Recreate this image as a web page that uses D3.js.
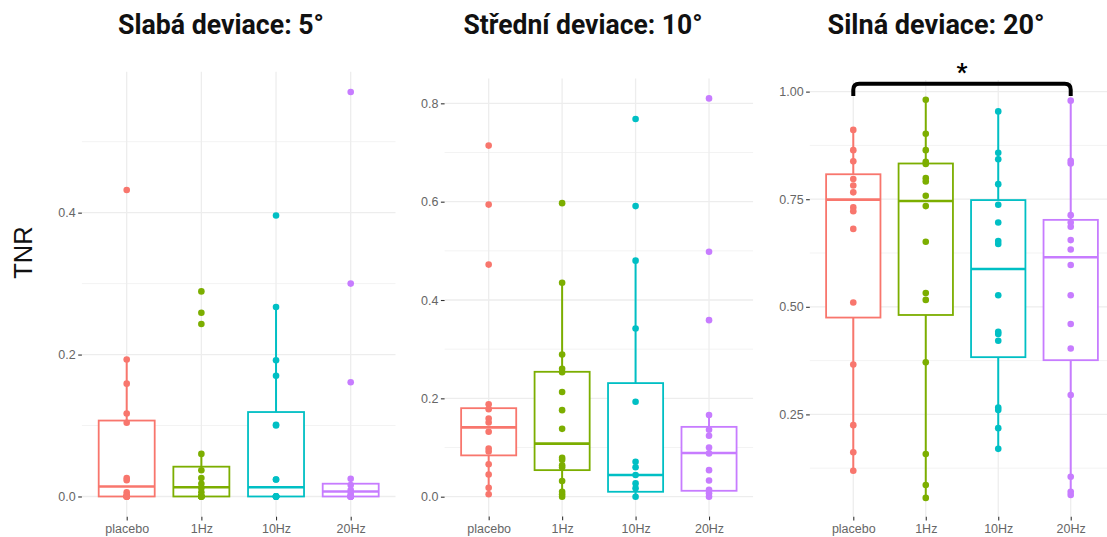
<!DOCTYPE html>
<html>
<head>
<meta charset="utf-8">
<script src="https://cdn.jsdelivr.net/npm/d3@7"></script>
<style>
    body { margin: 0; background: #fff; }
    svg { display: block; }
</style>
</head>
<body>
<div id="chart"></div>
<script>
    // categories and colours (ggplot default hue)
    var groups = ['placebo', '1Hz', '10Hz', '20Hz'];
    var groupColors = ['#F8766D', '#7CAE00', '#00BFC4', '#C77CFF'];
    var panelTitles = ['Slabá deviace: 5°', 'Střední deviace: 10°', 'Silná deviace: 20°'];

    // tick values
    var weakTicks = [0, 0.2, 0.4];
    var weakMinor = [0.1, 0.3, 0.5];
    var midTicks = [0, 0.2, 0.4, 0.6, 0.8];
    var midMinor = [0.1, 0.3, 0.5, 0.7];
    var strongTicks = [0.25, 0.5, 0.75, 1.0];
    var strongMinor = [0.125, 0.375, 0.625, 0.875];

    // box stats per group: [lower whisker, q1, median, q3, upper whisker]
    var weakBoxes = [
        [0, 0, 0.014, 0.107, 0.193],
        [0, 0, 0.013, 0.042, 0.060],
        [0, 0, 0.013, 0.119, 0.267],
        [0, 0, 0.007, 0.018, 0.025]
    ];
    var midBoxes = [
        [0.005, 0.084, 0.141, 0.180, 0.188],
        [0, 0.054, 0.108, 0.254, 0.435],
        [0, 0.010, 0.044, 0.231, 0.480],
        [0, 0.012, 0.089, 0.142, 0.166]
    ];
    var strongBoxes = [
        [0.119, 0.475, 0.749, 0.808, 0.911],
        [0.056, 0.481, 0.746, 0.833, 0.981],
        [0.170, 0.383, 0.588, 0.748, 0.954],
        [0.063, 0.376, 0.615, 0.702, 0.979]
    ];

    // individual observations per group
    var weakPoints = [
        [0.432, 0.193, 0.159, 0.117, 0.104, 0.026, 0.023, 0.006, 0.002, 0, 0, 0, 0, 0, 0],
        [0.289, 0.259, 0.243, 0.060, 0.037, 0.026, 0.018, 0.012, 0.006, 0, 0, 0, 0, 0, 0],
        [0.396, 0.267, 0.192, 0.170, 0.101, 0.100, 0.024, 0.024, 0, 0, 0, 0, 0, 0, 0],
        [0.570, 0.300, 0.161, 0.025, 0.016, 0.009, 0.005, 0, 0, 0, 0, 0, 0, 0, 0]
    ];
    var midPoints = [
        [0.714, 0.594, 0.472, 0.188, 0.178, 0.159, 0.151, 0.132, 0.098, 0.092, 0.066, 0.045, 0.018, 0.005],
        [0.597, 0.435, 0.289, 0.260, 0.253, 0.213, 0.176, 0.138, 0.079, 0.075, 0.064, 0.060, 0.032, 0.010, 0.005, 0],
        [0.768, 0.591, 0.480, 0.342, 0.193, 0.071, 0.060, 0.044, 0.027, 0.017, 0],
        [0.810, 0.498, 0.359, 0.166, 0.136, 0.124, 0.100, 0.088, 0.054, 0.033, 0.014, 0.007, 0]
    ];
    var strongPoints = [
        [0.911, 0.864, 0.838, 0.797, 0.782, 0.766, 0.731, 0.722, 0.681, 0.510, 0.366, 0.225, 0.162, 0.119],
        [0.981, 0.902, 0.864, 0.837, 0.832, 0.799, 0.791, 0.758, 0.734, 0.651, 0.532, 0.516, 0.371, 0.158, 0.086, 0.056],
        [0.954, 0.858, 0.843, 0.785, 0.737, 0.696, 0.653, 0.646, 0.527, 0.442, 0.437, 0.421, 0.266, 0.260, 0.218, 0.170],
        [0.979, 0.839, 0.833, 0.713, 0.696, 0.686, 0.655, 0.633, 0.597, 0.527, 0.460, 0.403, 0.295, 0.105, 0.070, 0.063]
    ];

    // significance bracket (panel 3)
    var sigPair = ['placebo', '20Hz'];
    var sigLabel = '*';

    var width = 1107, height = 537;

    var svg = d3.select('#chart')
        .append('svg')
        .attr('width', width)
        .attr('height', height);

    // panel layout
    var panels = [
        {title: panelTitles[0], titleX: 221, left: 81.9, right: 395.5, top: 71.8, bottom: 516.7,
            domain: [-0.0285, 0.5985], ticks: weakTicks, minor: weakMinor, fmt: d3.format('.1f'),
            boxes: weakBoxes, points: weakPoints},
        {title: panelTitles[1], titleX: 583, left: 444.6, right: 753.1, top: 78.5, bottom: 516.6,
            domain: [-0.0405, 0.8505], ticks: midTicks, minor: midMinor, fmt: d3.format('.1f'),
            boxes: midBoxes, points: midPoints},
        {title: panelTitles[2], titleX: 936, left: 809.8, right: 1114.2, top: 80, bottom: 516.7,
            domain: [0.0123, 1.027], ticks: strongTicks, minor: strongMinor, fmt: d3.format('.2f'),
            boxes: strongBoxes, points: strongPoints, sig: true}
    ];

    var titleWidths = [206, 239, 217];

    panels.forEach(function (p, pi) {
        var x = d3.scalePoint().domain(groups).range([p.left, p.right]).padding(0.6);
        var y = d3.scaleLinear().domain(p.domain).range([p.bottom, p.top]);
        var step = x.step();
        var boxW = step * 0.75;

        var g = svg.append('g');

        // grid
        g.selectAll('line.minor')
            .data(p.minor)
            .enter()
            .append('line')
            .attr('x1', p.left).attr('x2', p.right)
            .attr('y1', function (d) { return y(d); })
            .attr('y2', function (d) { return y(d); })
            .attr('stroke', '#f3f3f3')
            .attr('stroke-width', 1);

        g.selectAll('line.major')
            .data(p.ticks)
            .enter()
            .append('line')
            .attr('x1', p.left).attr('x2', p.right)
            .attr('y1', function (d) { return y(d); })
            .attr('y2', function (d) { return y(d); })
            .attr('stroke', '#ededed')
            .attr('stroke-width', 1.3);

        g.selectAll('line.vgrid')
            .data(groups)
            .enter()
            .append('line')
            .attr('x1', function (d) { return x(d); })
            .attr('x2', function (d) { return x(d); })
            .attr('y1', p.top).attr('y2', p.bottom)
            .attr('stroke', '#ededed')
            .attr('stroke-width', 1.3);

        // axes
        var yAxis = g.append('g')
            .attr('transform', 'translate(' + p.left + ',0)')
            .call(d3.axisLeft(y).tickValues(p.ticks).tickFormat(p.fmt).tickSize(3.7).tickPadding(2.5));
        var xAxis = g.append('g')
            .attr('transform', 'translate(0,' + p.bottom + ')')
            .call(d3.axisBottom(x).tickSize(3.7).tickPadding(4));
        [yAxis, xAxis].forEach(function (a) {
            a.select('.domain').remove();
            a.selectAll('.tick line').attr('stroke', '#333').attr('stroke-width', 1.1);
            a.selectAll('.tick text')
                .attr('fill', '#666')
                .style('font-family', 'Liberation Sans, Arial, sans-serif')
                .style('font-size', '12.5px');
        });

        // boxes
        var box = g.selectAll('g.box')
            .data(p.boxes)
            .enter()
            .append('g')
            .attr('class', 'box');

        box.append('line')
            .attr('x1', function (d, i) { return x(groups[i]); })
            .attr('x2', function (d, i) { return x(groups[i]); })
            .attr('y1', function (d) { return y(d[4]); })
            .attr('y2', function (d) { return y(d[0]); })
            .attr('stroke', function (d, i) { return groupColors[i]; })
            .attr('stroke-width', 2);

        box.append('rect')
            .attr('x', function (d, i) { return x(groups[i]) - boxW / 2; })
            .attr('width', boxW)
            .attr('y', function (d) { return y(d[3]); })
            .attr('height', function (d) { return y(d[1]) - y(d[3]); })
            .attr('fill', '#fff')
            .attr('stroke', function (d, i) { return groupColors[i]; })
            .attr('stroke-width', 1.8);

        box.append('line')
            .attr('x1', function (d, i) { return x(groups[i]) - boxW / 2; })
            .attr('x2', function (d, i) { return x(groups[i]) + boxW / 2; })
            .attr('y1', function (d) { return y(d[2]); })
            .attr('y2', function (d) { return y(d[2]); })
            .attr('stroke', function (d, i) { return groupColors[i]; })
            .attr('stroke-width', 2.6);

        // points
        p.points.forEach(function (vals, gi) {
            g.selectAll(null)
                .data(vals)
                .enter()
                .append('circle')
                .attr('cx', x(groups[gi]))
                .attr('cy', function (d) { return y(d); })
                .attr('r', 3.3)
                .attr('fill', groupColors[gi]);
        });

        // title
        svg.append('text')
            .attr('x', p.titleX)
            .attr('y', 33.5)
            .attr('text-anchor', 'middle')
            .attr('textLength', titleWidths[pi])
            .attr('lengthAdjust', 'spacingAndGlyphs')
            .style('font-family', 'Roboto, sans-serif')
            .style('font-weight', 'bold')
            .style('font-size', '28px')
            .attr('fill', '#111')
            .text(p.title);

        // significance bracket
        if (p.sig) {
            var x1 = x(sigPair[0]), x2 = x(sigPair[1]);
            var yb = y(1.018), ye = y(0.99), r = 6;
            g.append('path')
                .attr('d', 'M' + x1 + ',' + ye + 'L' + x1 + ',' + (yb + r) +
                    'Q' + x1 + ',' + yb + ' ' + (x1 + r) + ',' + yb +
                    'L' + (x2 - r) + ',' + yb +
                    'Q' + x2 + ',' + yb + ' ' + x2 + ',' + (yb + r) +
                    'L' + x2 + ',' + ye)
                .attr('fill', 'none')
                .attr('stroke', '#000')
                .attr('stroke-width', 4);
            g.append('text')
                .attr('x', (x1 + x2) / 2)
                .attr('y', yb - 4)
                .attr('text-anchor', 'middle')
                .style('font-family', 'Roboto, sans-serif')
                .style('font-weight', 'bold')
                .style('font-size', '24px')
                .text(sigLabel);
        }
    });

    // y axis label
    svg.append('text')
        .attr('transform', 'translate(32,252.5) rotate(-90)')
        .attr('text-anchor', 'middle')
        .style('font-family', 'Liberation Sans, Arial, sans-serif')
        .style('font-size', '25.5px')
        .attr('fill', '#111')
        .text('TNR');
</script>
</body>
</html>
